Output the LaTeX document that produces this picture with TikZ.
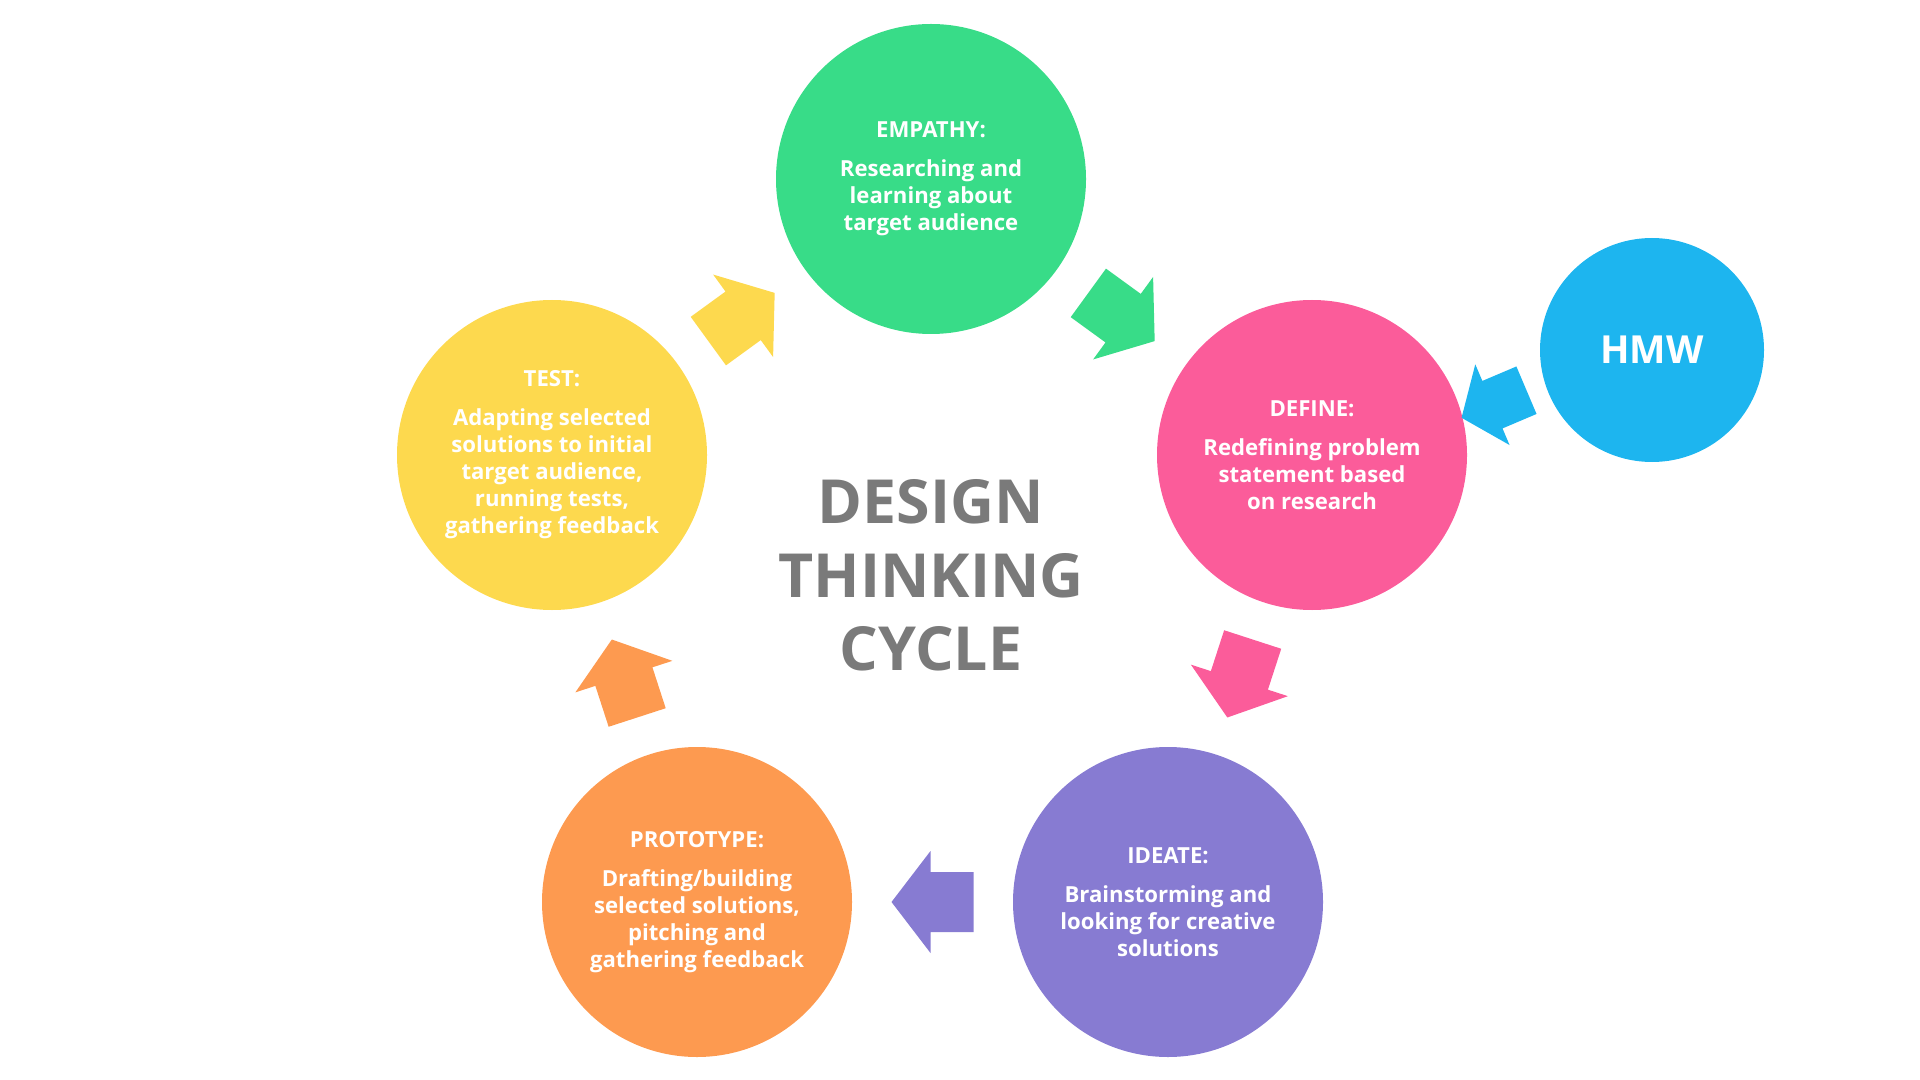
\documentclass[tikz,border=0pt]{standalone}
\usepackage{fontspec}
\setmainfont{Open Sans}
\usetikzlibrary{calc}

\definecolor{empathygreen}{HTML}{38DC88}
\definecolor{definepink}{HTML}{FB5C9A}
\definecolor{ideatepurple}{HTML}{877BD2}
\definecolor{protoorange}{HTML}{FD9A50}
\definecolor{testyellow}{HTML}{FDD94E}
\definecolor{hmwblue}{HTML}{1DB5EF}
\definecolor{titlegray}{HTML}{7A7A7A}

\begin{document}
\begin{tikzpicture}[
  phase/.style={circle,minimum size=3.1cm,inner sep=0pt,text=white,align=center,
    font=\bfseries\fontsize{6.3}{7.7}\selectfont},
  cyclearrow/.pic={\fill[pic actions] (0.41,0) -- (0.02,0.51) -- (0.02,0.30) -- (-0.41,0.30)
    -- (-0.41,-0.30) -- (0.02,-0.30) -- (0.02,-0.51) -- cycle;}
]
\useasboundingbox (0,0) rectangle (19.2,-10.8);
% the five phases
\node[phase,fill=empathygreen] (empathy) at (9.31,-1.79)
  {EMPATHY:\\[3.4pt]Researching and\\learning about\\target audience};
\node[phase,fill=definepink] (define) at (13.12,-4.55)
  {DEFINE:\\[3.4pt]Redefining problem\\statement based\\on research};
\node[phase,fill=ideatepurple] (ideate) at (11.68,-9.02)
  {IDEATE:\\[3.4pt]Brainstorming and\\looking for creative\\solutions};
\node[phase,fill=protoorange] (prototype) at (6.97,-9.02)
  {PROTOTYPE:\\[3.4pt]Drafting/building\\selected solutions,\\pitching and\\gathering feedback};
\node[phase,fill=testyellow] (test) at (5.52,-4.55)
  {TEST:\\[3.4pt]Adapting selected\\solutions to initial\\target audience,\\running tests,\\gathering feedback};
% HMW
\node[circle,minimum size=2.24cm,inner sep=0pt,fill=hmwblue,text=white,
  font=\bfseries\fontsize{11}{14}\selectfont] (hmw) at (16.52,-3.50) {HMW};
% title in the middle
\node[text=titlegray,align=center,font=\bfseries\fontsize{17.3}{20.9}\selectfont]
  (title) at (9.31,-5.755) {DESIGN\\THINKING\\CYCLE};
% arrows between the phases
\pic[fill=testyellow,rotate=36] at ($(test)!0.5!(empathy)$) {cyclearrow};
\pic[fill=empathygreen,rotate=-36] at ($(empathy)!0.5!(define)$) {cyclearrow};
\pic[fill=definepink,rotate=-108] at ($(define)!0.5!(ideate)$) {cyclearrow};
\pic[fill=ideatepurple,rotate=180] at ($(ideate)!0.5!(prototype)$) {cyclearrow};
\pic[fill=protoorange,rotate=108] at ($(prototype)!0.5!(test)$) {cyclearrow};
\pic[fill=hmwblue,rotate=203,scale=0.86] at ($(hmw)!0.5!(define)+(0.12,-0.015)$) {cyclearrow};
\end{tikzpicture}
\end{document}
